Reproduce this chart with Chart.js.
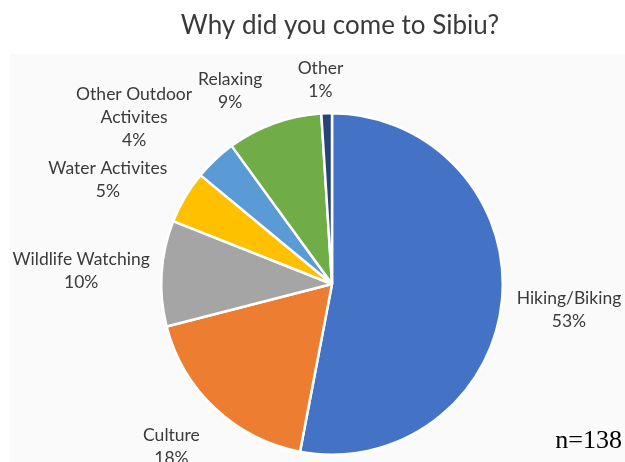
<!DOCTYPE html>
<html>
<head>
<meta charset="utf-8">
<script src="https://cdn.jsdelivr.net/npm/chart.js@4"></script>
<style>
  html, body { margin: 0; padding: 0; background: #ffffff; }
  #wrap { position: relative; width: 625px; height: 462px; }
</style>
</head>
<body>
<div id="wrap"><canvas id="pie" width="625" height="462"></canvas></div>
<script>
// categories, clockwise from 12 o'clock
const categories = [
  ["Hiking/Biking"],
  ["Culture"],
  ["Wildlife Watching"],
  ["Water Activites"],
  ["Other Outdoor", "Activites"],
  ["Relaxing"],
  ["Other"]
];
const shares = [53, 18, 10, 5, 4, 9, 1];
const colors = ["#4472C4", "#ED7D31", "#A5A5A5", "#FFC000", "#5B9BD5", "#70AD47", "#264478"];

const chartTitle = "Why did you come to Sibiu?";
const sampleNote = "n=138";

// small hand nudges for the outside labels (layout only)
const labelNudge = [
  { dx: 0, dy: 6 }, { dx: -14, dy: 11 }, { dx: 3, dy: 0 }, { dx: -13, dy: 2 },
  { dx: -31, dy: -6 }, { dx: -28, dy: 3 }, { dx: -5, dy: 5 }
];

const textColor = "#3a3a3a";
const labelFont = "17.5px Lato, 'Open Sans', sans-serif";

const backdrop = {
  id: "backdrop",
  beforeDraw(chart) {
    const ctx = chart.ctx;
    ctx.save();
    ctx.fillStyle = "#ffffff";
    ctx.fillRect(0, 0, chart.width, chart.height);
    ctx.fillStyle = "#fafafa";
    ctx.fillRect(10, 54, chart.width - 10, chart.height - 54);
    ctx.restore();
  }
};

const outsideLabels = {
  id: "outsideLabels",
  afterDraw(chart) {
    const ctx = chart.ctx;
    const meta = chart.getDatasetMeta(0);
    ctx.save();
    ctx.font = labelFont;
    ctx.fillStyle = textColor;
    ctx.textAlign = "center";
    ctx.textBaseline = "middle";
    const lineH = 23;
    meta.data.forEach((arc, i) => {
      const p = arc.getProps(["x", "y", "startAngle", "endAngle", "outerRadius"], true);
      const mid = (p.startAngle + p.endAngle) / 2;
      const cos = Math.cos(mid), sin = Math.sin(mid);
      const lines = categories[i].concat([shares[i] + "%"]);
      const w = Math.max(...lines.map(l => ctx.measureText(l).width));
      const h = lines.length * lineH;
      const ax = p.x + (p.outerRadius + 15) * cos;
      const ay = p.y + (p.outerRadius + 15) * sin;
      const cx = ax + cos * w / 2 + labelNudge[i].dx;
      const cy = ay + sin * h / 2 + labelNudge[i].dy;
      lines.forEach((l, k) => {
        ctx.fillText(l, cx, cy - h / 2 + lineH / 2 + k * lineH);
      });
    });

    // title
    ctx.font = "26px Lato, 'Open Sans', sans-serif";
    ctx.fillText(chartTitle, 340, 26);

    // sample size note
    ctx.font = "26px 'Liberation Serif', 'DejaVu Serif', serif";
    ctx.fillStyle = "#000000";
    ctx.textAlign = "right";
    ctx.fillText(sampleNote, 622, 441);
    ctx.restore();
  }
};

new Chart(document.getElementById("pie"), {
  type: "pie",
  data: {
    labels: categories.map(c => c.join(" ")),
    datasets: [{
      data: shares,
      backgroundColor: colors,
      borderColor: "#ffffff",
      borderWidth: 2.5
    }]
  },
  options: {
    responsive: false,
    animation: false,
    layout: { padding: { top: 112, bottom: 6, left: 160, right: 121 } },
    plugins: {
      legend: { display: false },
      title: { display: false },
      tooltip: { enabled: false }
    }
  },
  plugins: [backdrop, outsideLabels]
});
</script>
</body>
</html>
